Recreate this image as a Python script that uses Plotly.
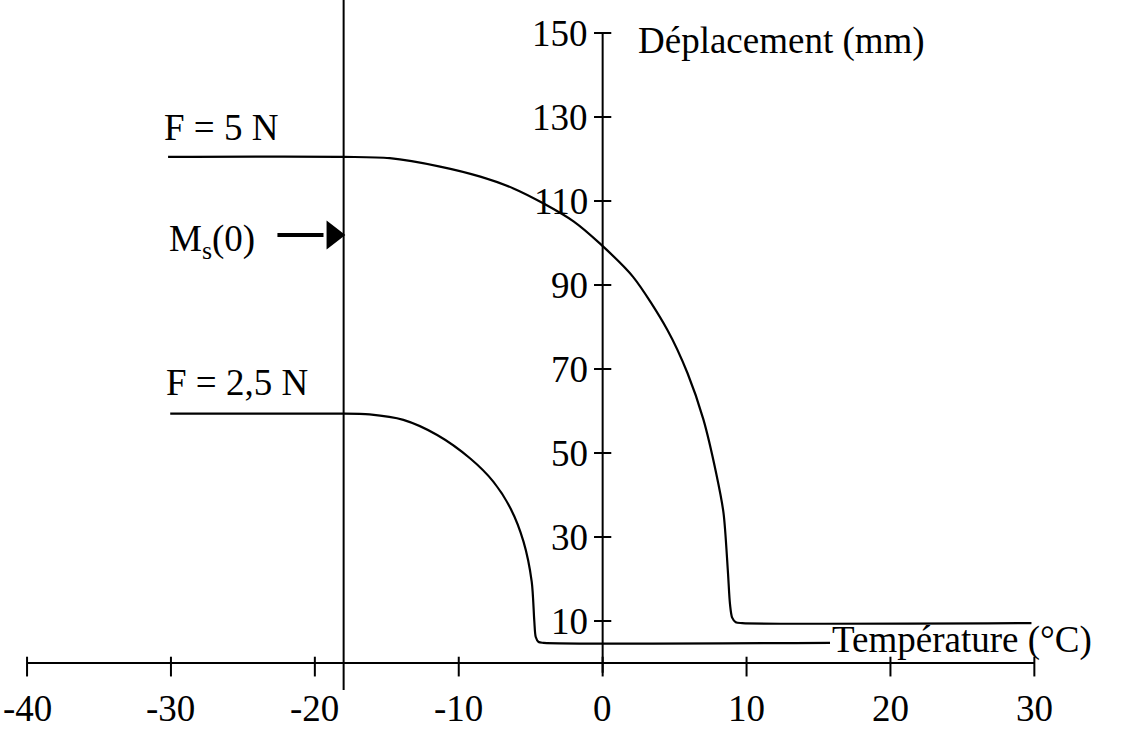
import plotly.graph_objects as go

# ---------------- data ----------------
x_ticks = [-40, -30, -20, -10, 0, 10, 20, 30]
x_tick_labels = ["-40", "-30", "-20", "-10", "0", "10", "20", "30"]
y_ticks = [10, 30, 50, 70, 90, 110, 130, 150]
y_tick_labels = ["10", "30", "50", "70", "90", "110", "130", "150"]

# F = 5 N curve
f5_x = [-30.2, -18.0, -14.8, -11.3, -8.5, -6.2, -4.1, -2.0, -0.2, 2.1, 4.5, 5.9, 7.0, 7.9, 8.4, 8.7, 8.85, 9.0, 9.25, 9.7, 29.8]
f5_y = [120.5, 120.5, 120.2, 118.2, 115.8, 113.0, 109.4, 105.1, 99.9, 92.0, 79.3, 69.0, 58.0, 45.0, 35.7, 22.0, 14.0, 10.8, 9.7, 9.5, 9.5]

# F = 2,5 N curve
f25_x = [-30.05, -18.5, -16.2, -13.85, -11.5, -9.2, -7.6, -6.4, -5.5, -4.93, -4.75, -4.65, -4.45, -4.1, 15.8]
f25_y = [59.4, 59.4, 59.2, 57.9, 54.3, 48.7, 43.2, 36.8, 28.9, 19.4, 10.0, 6.2, 5.0, 4.8, 4.8]

ms0_x = -18.0      # M_s(0) vertical line
ms0_arrow_y = 101.9

curve_labels = ["F = 5 N", "F = 2,5 N"]
curve_label_pos = [(-30.6, 127.6), (-30.5, 66.7)]

FONT = "Liberation Serif, Times New Roman, serif"
FS = 37
BLACK = "black"

fig = go.Figure()

def seg(xs, ys, w=2):
    fig.add_trace(go.Scatter(x=xs, y=ys, mode="lines",
                             line=dict(color=BLACK, width=w),
                             hoverinfo="skip", showlegend=False))

# x axis
seg([x_ticks[0], x_ticks[-1]], [0, 0])
for xv in x_ticks:
    seg([xv, xv], [1.5, -3.2])
# y axis
seg([0, 0], [-2.3, y_ticks[-1]])
for yv in y_ticks:
    seg([-0.6, 0.6], [yv, yv])

# M_s(0) vertical line
seg([ms0_x, ms0_x], [157.9, -6.4], w=2)

# curves
fig.add_trace(go.Scatter(x=f5_x, y=f5_y, mode="lines", name="F = 5 N",
                         line=dict(color=BLACK, width=2.2, shape="spline", smoothing=0.8),
                         showlegend=False))
fig.add_trace(go.Scatter(x=f25_x, y=f25_y, mode="lines", name="F = 2,5 N",
                         line=dict(color=BLACK, width=2.2, shape="spline", smoothing=0.8),
                         showlegend=False))

# arrow to M_s(0)
seg([-22.6, -19.4], [ms0_arrow_y, ms0_arrow_y], w=4)
fig.add_trace(go.Scatter(x=[-18.75], y=[ms0_arrow_y], mode="markers",
                         marker=dict(symbol="triangle-right", size=25, color=BLACK),
                         hoverinfo="skip", showlegend=False))

ann = []
for xv, lab in zip(x_ticks, x_tick_labels):
    ann.append(dict(x=xv, y=0, text=lab, showarrow=False, xanchor="center",
                    yanchor="middle", yshift=-45))
for yv, lab in zip(y_ticks, y_tick_labels):
    ann.append(dict(x=0, y=yv, text=lab, showarrow=False, xanchor="right",
                    yanchor="middle", xshift=-13))
ann.append(dict(x=0, y=150, text="Déplacement (mm)", showarrow=False,
                xanchor="left", yanchor="middle", xshift=33, yshift=-8))
ann.append(dict(x=15.8, y=5.5, text="Température (°C)", showarrow=False,
                xanchor="left", yanchor="middle"))
for lab, (lx, ly) in zip(curve_labels, curve_label_pos):
    ann.append(dict(x=lx, y=ly, text=lab, showarrow=False,
                    xanchor="left", yanchor="middle"))
ann.append(dict(x=-30.3, y=ms0_arrow_y, text="M<sub>s</sub>(0)", showarrow=False,
                xanchor="left", yanchor="middle", yshift=-6))
for a in ann:
    a["font"] = dict(family=FONT, size=FS, color=BLACK)
    a["xref"] = "x"
    a["yref"] = "y"

fig.update_layout(
    width=1124, height=729,
    margin=dict(l=0, r=0, t=0, b=0),
    paper_bgcolor="white", plot_bgcolor="white",
    xaxis=dict(range=[-41.88, 36.23], visible=False, fixedrange=True),
    yaxis=dict(range=[-15.71, 157.86], visible=False, fixedrange=True),
    annotations=ann,
    showlegend=False,
)

fig.write_html("out.html", config={"displayModeBar": False},
               post_script="document.body.style.margin='0';document.body.style.overflow='hidden';")
